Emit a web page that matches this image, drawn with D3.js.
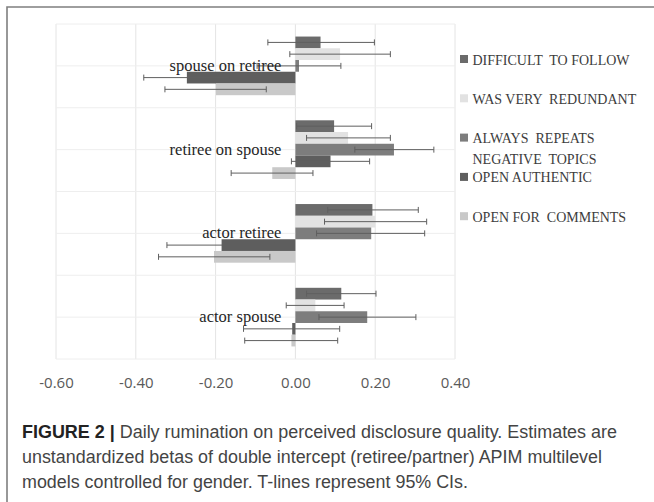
<!DOCTYPE html>
<html>
<head>
<meta charset="utf-8">
<script src="https://cdn.jsdelivr.net/npm/d3@7"></script>
<style>
  body { margin: 0; background: #fff; }
</style>
</head>
<body>
<div id="container"></div>
<script>
// container window size
const cwW = 654;
const cwH = 502;

// plot area
const plotL = 56, plotR = 455, plotT = 24, plotB = 359;

// data
const categories = ["spouse on retiree", "retiree on spouse", "actor retiree", "actor spouse"];
const seriesNames = ["DIFFICULT TO FOLLOW", "WAS VERY REDUNDANT", "ALWAYS REPEATS NEGATIVE TOPICS", "OPEN AUTHENTIC", "OPEN FOR COMMENTS"];
const legendLines = [["DIFFICULT  TO FOLLOW"], ["WAS VERY  REDUNDANT"], ["ALWAYS  REPEATS", "NEGATIVE  TOPICS"], ["OPEN AUTHENTIC"], ["OPEN FOR  COMMENTS"]];
const seriesColors = ["#6b6b6b", "#e2e2e2", "#7d7d7d", "#5e5e5e", "#c9c9c9"];

// betas per series (one value per category)
const difficultEst = [0.063, 0.097, 0.193, 0.115];
const difficultLo  = [-0.069, 0.003, 0.081, 0.028];
const difficultHi  = [0.198, 0.191, 0.308, 0.202];

const redundantEst = [0.112, 0.132, 0.200, 0.050];
const redundantLo  = [-0.014, 0.028, 0.073, -0.023];
const redundantHi  = [0.238, 0.238, 0.329, 0.122];

const repeatsEst = [0.009, 0.247, 0.190, 0.180];
const repeatsLo  = [-0.096, 0.149, 0.053, 0.059];
const repeatsHi  = [0.114, 0.347, 0.324, 0.302];

const authenticEst = [-0.272, 0.088, -0.185, -0.008];
const authenticLo  = [-0.380, -0.010, -0.322, -0.130];
const authenticHi  = [-0.166, 0.186, -0.051, 0.111];

const commentsEst = [-0.199, -0.058, -0.204, -0.010];
const commentsLo  = [-0.327, -0.161, -0.343, -0.127];
const commentsHi  = [-0.073, 0.044, -0.064, 0.106];

const xTicks = [-0.6, -0.4, -0.2, 0.0, 0.2, 0.4];

const captionLines = [
  "Daily rumination on perceived disclosure quality. Estimates are",
  "unstandardized betas of double intercept (retiree/partner) APIM multilevel",
  "models controlled for gender. T-lines represent 95% CIs."
];

// build rows for d3
const est = [difficultEst, redundantEst, repeatsEst, authenticEst, commentsEst];
const lo  = [difficultLo, redundantLo, repeatsLo, authenticLo, commentsLo];
const hi  = [difficultHi, redundantHi, repeatsHi, authenticHi, commentsHi];
let rows = [];
categories.forEach(function(c, ci){
  seriesNames.forEach(function(s, si){
    rows.push({cat: c, ser: s, si: si, v: est[si][ci], lo: lo[si][ci], hi: hi[si][ci]});
  });
});

const serifFont = "'Times New Roman', 'Liberation Serif', Times, serif";

let svgArea = d3.select("#container").append("svg")
  .attr("width", cwW)
  .attr("height", cwH);

/**************************
* scales
**************************/
const x = d3.scaleLinear().domain([-0.6, 0.4]).range([plotL, plotR]);
const y0 = d3.scaleBand().domain(categories).range([plotT, plotB]);
const y1 = d3.scaleBand().domain(seriesNames).range([0, y0.bandwidth()]).paddingOuter(1.07);

/**************************
* gridlines
**************************/
let grid = svgArea.append("g").attr("id", "grid");
grid.selectAll("line.v")
  .data(xTicks)
  .enter()
  .append("line")
  .attr("x1", d => x(d)).attr("x2", d => x(d))
  .attr("y1", plotT).attr("y2", plotB)
  .attr("stroke", "#e4e4e4")
  .attr("stroke-width", 1);

let hLines = [];
categories.forEach(function(c){
  hLines.push(y0(c));
  hLines.push(y0(c) + y0.bandwidth()/2);
});
hLines.push(plotB);
grid.selectAll("line.h")
  .data(hLines)
  .enter()
  .append("line")
  .attr("x1", plotL).attr("x2", plotR)
  .attr("y1", d => d).attr("y2", d => d)
  .attr("stroke", "#eeeeee")
  .attr("stroke-width", 1);

/**************************
* bars
**************************/
svgArea.append("g")
  .attr("id", "bars")
  .selectAll("rect")
  .data(rows)
  .enter()
  .append("rect")
  .attr("x", d => Math.min(x(0), x(d.v)))
  .attr("width", d => Math.abs(x(d.v) - x(0)))
  .attr("y", d => y0(d.cat) + y1(d.ser))
  .attr("height", y1.bandwidth())
  .attr("fill", d => seriesColors[d.si]);

/**************************
* error bars
**************************/
let err = svgArea.append("g")
  .attr("id", "errors")
  .attr("stroke", "#5f5f5f")
  .attr("stroke-width", 1);
let eb = err.selectAll("g")
  .data(rows)
  .enter()
  .append("g")
  .attr("transform", d => "translate(0," + (y0(d.cat) + y1(d.ser) + y1.bandwidth()/2) + ")");
eb.append("line")
  .attr("x1", d => x(d.lo)).attr("x2", d => x(d.hi))
  .attr("y1", 0).attr("y2", 0);
eb.append("line")
  .attr("x1", d => x(d.lo)).attr("x2", d => x(d.lo))
  .attr("y1", -3).attr("y2", 3);
eb.append("line")
  .attr("x1", d => x(d.hi)).attr("x2", d => x(d.hi))
  .attr("y1", -3).attr("y2", 3);

/**************************
* category labels
**************************/
svgArea.append("g")
  .attr("id", "catlabels")
  .selectAll("text")
  .data(categories)
  .enter()
  .append("text")
  .attr("x", x(0) - 14)
  .attr("y", d => y0(d) + y0.bandwidth()/2 + 5)
  .attr("text-anchor", "end")
  .style("font-family", serifFont)
  .attr("font-size", 16.5)
  .attr("fill", "#262626")
  .text(d => d);

/**************************
* x axis
**************************/
let xAxis = d3.axisBottom(x)
  .tickValues(xTicks)
  .tickFormat(d => d.toFixed(2))
  .tickSize(0)
  .tickPadding(18);
let axG = svgArea.append("g")
  .attr("transform", "translate(0," + plotB + ")")
  .call(xAxis);
axG.select(".domain").remove();
axG.selectAll("text")
  .attr("font-family", "'Open Sans', sans-serif")
  .attr("font-size", 15)
  .attr("fill", "#595959");

/**************************
* legend
**************************/
const legTop = 55, legStep = 39.3;
let leg = svgArea.append("g")
  .attr("id", "legend")
  .selectAll("g")
  .data(seriesNames)
  .enter()
  .append("g")
  .attr("transform", (d, i) => "translate(460," + (legTop + i*legStep) + ")");
leg.append("rect")
  .attr("width", 8).attr("height", 8)
  .attr("fill", (d, i) => seriesColors[i]);
leg.append("text")
  .style("font-family", serifFont)
  .attr("font-size", 14)
  .attr("fill", "#3c3c3c")
  .style("white-space", "pre")
  .selectAll("tspan")
  .data((d, i) => legendLines[i])
  .enter()
  .append("tspan")
  .attr("x", 12.5)
  .attr("y", (d, j) => 9.5 + j*21)
  .text(d => d);

/**************************
* frame + caption
**************************/
svgArea.append("path")
  .attr("d", "M7," + cwH + "V7H" + cwW)
  .attr("fill", "none")
  .attr("stroke", "#7f7f7f")
  .attr("stroke-width", 1.6);

const capWidths = [595, 580, 446];
let cap = svgArea.append("g")
  .attr("id", "caption")
  .style("font-family", "'Liberation Sans', Arial, sans-serif")
  .attr("font-size", 17.5)
  .attr("fill", "#444");
captionLines.forEach(function(line, i){
  let t = cap.append("text")
    .attr("x", 22)
    .attr("y", 438 + i*25)
    .attr("textLength", capWidths[i])
    .attr("lengthAdjust", "spacingAndGlyphs");
  if (i === 0) {
    t.append("tspan").attr("font-weight", "bold").attr("fill", "#222").text("FIGURE 2 | ");
  }
  t.append("tspan").text(line);
});
</script>
</body>
</html>
